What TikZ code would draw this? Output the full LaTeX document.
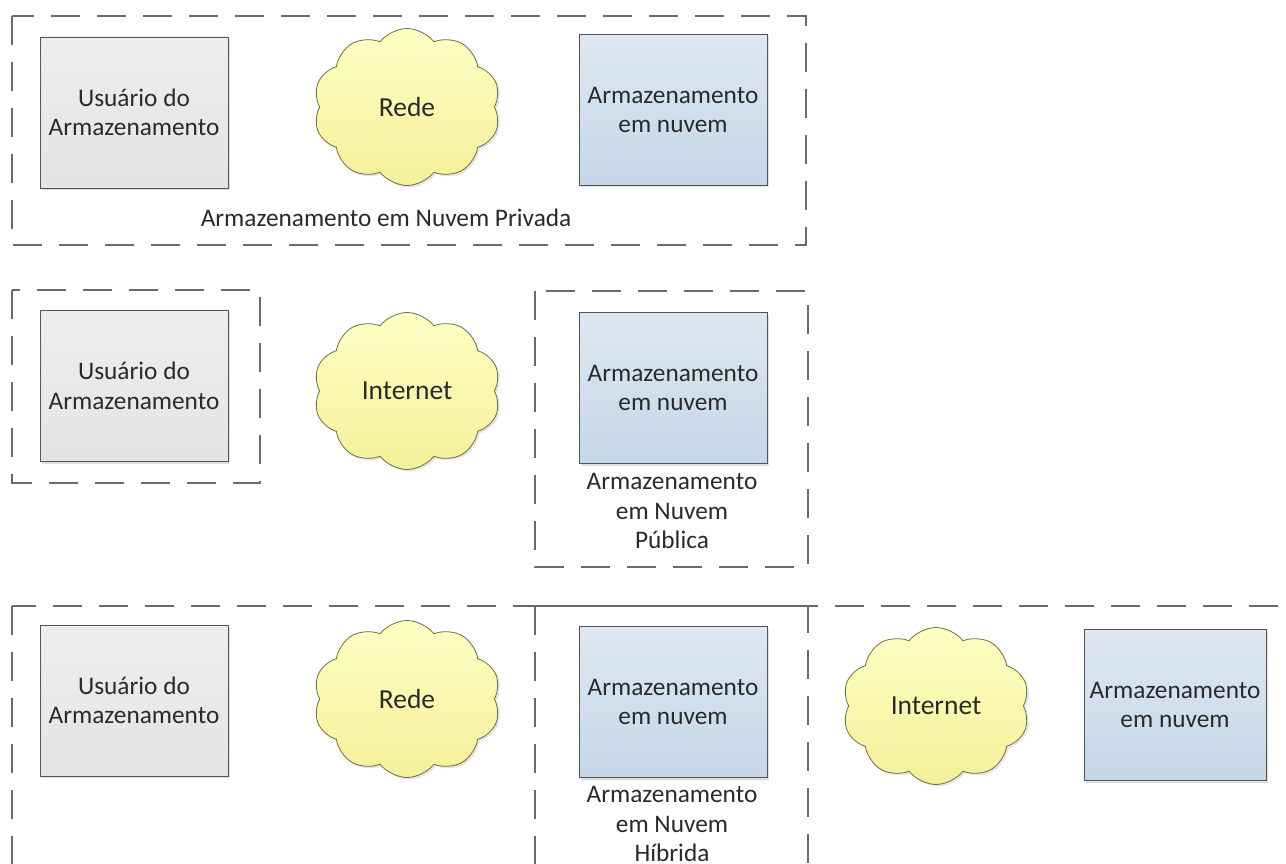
\documentclass[tikz,border=0pt]{standalone}
\usepackage{fontspec}
\setmainfont{Carlito}
\usetikzlibrary{shapes.symbols,shadows}
\definecolor{dashgray}{HTML}{6A6A6A}
\definecolor{boxline}{HTML}{555555}
\definecolor{graytop}{HTML}{EEEEEE}
\definecolor{graybot}{HTML}{E4E4E4}
\definecolor{bluetop}{HTML}{DEE8F2}
\definecolor{bluebot}{HTML}{C5D6E7}
\definecolor{cloudtop}{HTML}{FFFFC4}
\definecolor{cloudbot}{HTML}{F4F09A}
\definecolor{cloudline}{HTML}{6E6E4A}
\definecolor{txt}{HTML}{2A2A2A}
\begin{document}
\begin{tikzpicture}[x=1pt,y=-1pt,
  every node/.style={text=txt, font=\fontsize{25.3}{29.5}\selectfont},
  cont/.style={draw=dashgray, line width=1.8pt, dash pattern=on 29pt off 17pt},
  boxbase/.style={draw=boxline, line width=0.9pt, align=center,
    minimum width=188pt, minimum height=151pt, inner sep=0pt,
    drop shadow={opacity=0.25, shadow xshift=2pt, shadow yshift=-2pt}},
  usrbox/.style={boxbase, top color=graytop, bottom color=graybot},
  cloudbox/.style={boxbase, top color=bluetop, bottom color=bluebot},
  netcloud/.style={cloud, cloud puffs=10, cloud puff arc=105, draw=cloudline,
    line width=0.8pt, top color=cloudtop, bottom color=cloudbot,
    minimum width=187pt, minimum height=157pt, inner sep=0pt,
    font=\fontsize{27.5}{32}\selectfont,
    drop shadow={opacity=0.2, shadow xshift=2pt, shadow yshift=-2pt}},
  lbl/.style={align=center, inner sep=0pt}
]
\clip (0,0) rectangle (1286,864);
\fill[white] (0,0) rectangle (1286,864);

% Row 1: private
\draw[cont] (12,16) rectangle (806,245);
\node[usrbox] (u1) at (134,112.5) {Usuário do\\Armazenamento};
\node[netcloud] (c1) at (407,107) {Rede};
\node[cloudbox] (s1) at (673,110) {Armazenamento\\em nuvem};
\node[lbl] (l1) at (386,218) {Armazenamento em Nuvem Privada};

% Row 2: public
\draw[cont] (12,290) rectangle (260,483);
\draw[cont] (535,291) rectangle (808,567);
\node[usrbox] (u2) at (134,386) {Usuário do\\Armazenamento};
\node[netcloud] (c2) at (407,391) {Internet};
\node[cloudbox] (s2) at (673,388) {Armazenamento\\em nuvem};
\node[lbl] (l2) at (672,511) {Armazenamento\\em Nuvem\\Pública};

% Row 3: hybrid
\draw[cont] (12,606) rectangle (1320,920);
\draw[cont] (535,606) rectangle (808,920);
\node[usrbox] (u3) at (134,700.5) {Usuário do\\Armazenamento};
\node[netcloud] (c3) at (407,699) {Rede};
\node[cloudbox] (s3) at (673,702) {Armazenamento\\em nuvem};
\node[lbl] (l3) at (672,824) {Armazenamento\\em Nuvem\\Híbrida};
\node[netcloud] (c4) at (936,706) {Internet};
\node[cloudbox, minimum width=182pt] (s4) at (1175,705) {Armazenamento\\em nuvem};
\end{tikzpicture}
\end{document}
